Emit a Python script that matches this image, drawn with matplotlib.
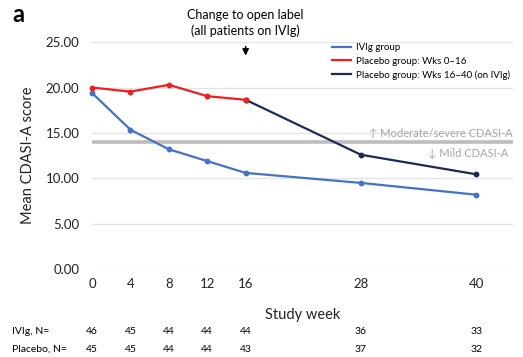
import matplotlib.pyplot as plt
import matplotlib.transforms as mtransforms

plt.rcParams['font.family'] = ['Lato', 'DejaVu Sans']

# data
weeks = [0, 4, 8, 12, 16, 28, 40]
ivig = [19.4, 15.35, 13.2, 11.9, 10.6, 9.5, 8.2]
placebo_weeks = [0, 4, 8, 12, 16]
placebo = [20.0, 19.55, 20.3, 19.05, 18.65]
placebo_ol_weeks = [16, 28, 40]
placebo_ol = [18.65, 12.6, 10.45]
threshold = 14.0
n_ivig = [46, 45, 44, 44, 44, 36, 33]
n_placebo = [45, 45, 44, 44, 43, 37, 32]

blue = '#4472C4'
red = '#F01E1E'
navy = '#1C2B55'

fig = plt.figure(figsize=(5.23, 3.57), dpi=100)
ax = fig.add_axes([0.176, 0.246, 0.805, 0.636])

ax.plot(weeks, ivig, color=blue, lw=1.6, marker='o', ms=3.2, label='IVIg group', clip_on=False, zorder=3)
ax.plot(placebo_weeks, placebo, color=red, lw=1.6, marker='o', ms=3.2, label='Placebo group: Wks 0\u201316', clip_on=False, zorder=4)
ax.plot(placebo_ol_weeks, placebo_ol, color=navy, lw=1.6, marker='o', ms=3.2, label='Placebo group: Wks 16\u201340 (on IVIg)', clip_on=False, zorder=3)
ax.axhline(threshold, color='#bdbdbd', lw=2.6, zorder=2)

ax.set_xlim(0, 43.85)
ax.set_ylim(0, 25)
ax.set_xticks(weeks)
ax.set_yticks([0, 5, 10, 15, 20, 25])
ax.set_yticklabels(['%.2f' % v for v in [0, 5, 10, 15, 20, 25]])
ax.grid(axis='y', color='#e3e3e3', lw=0.9)
ax.set_axisbelow(True)
for s in ax.spines.values():
    s.set_visible(False)
ax.tick_params(axis='both', length=0, labelsize=9.5, colors='#222222')
ax.tick_params(axis='y', pad=9)
ax.tick_params(axis='x', pad=6)
ax.set_ylabel('Mean CDASI-A score', fontsize=10.5, color='#222222', labelpad=8)
ax.set_xlabel('Study week', fontsize=10.5, color='#222222', labelpad=13)

ax.text(43.85, threshold + 0.4, '\u2191 Moderate/severe CDASI-A', ha='right', va='bottom',
        fontsize=8, color='#a6a6a6')
ax.text(43.3, threshold - 0.6, '\u2193 Mild CDASI-A', ha='right', va='top',
        fontsize=8, color='#a6a6a6')

leg = ax.legend(loc='upper left', bbox_to_anchor=(0.555, 1.02), frameon=False, fontsize=7,
                handlelength=2.0, handletextpad=0.5, labelspacing=0.45, borderaxespad=0.2)
for line in leg.get_lines():
    line.set_marker('')

ax.annotate('', xy=(16, 23.2), xytext=(16, 24.8),
            arrowprops=dict(arrowstyle='-|>', color='black', lw=1.2, mutation_scale=9),
            annotation_clip=False)
fig.text(245 / 523, 1 - 23 / 357, 'Change to open label\n(all patients on IVIg)', ha='center',
         va='center', fontsize=9, linespacing=1.3)

fig.text(12 / 523, 1 - 14 / 357, 'a', fontsize=17, fontweight='bold', va='center')

trans = mtransforms.blended_transform_factory(ax.transData, fig.transFigure)
fig.text(12 / 523, 1 - 331 / 357, 'IVIg, N=', fontsize=7.5, va='center')
fig.text(12 / 523, 1 - 349 / 357, 'Placebo, N=', fontsize=7.5, va='center')
for w, a, b in zip(weeks, n_ivig, n_placebo):
    ax.text(w, 1 - 331 / 357, str(a), transform=trans, ha='center', va='center', fontsize=7.5)
    ax.text(w, 1 - 349 / 357, str(b), transform=trans, ha='center', va='center', fontsize=7.5)

fig.savefig('out.png', dpi=100)
